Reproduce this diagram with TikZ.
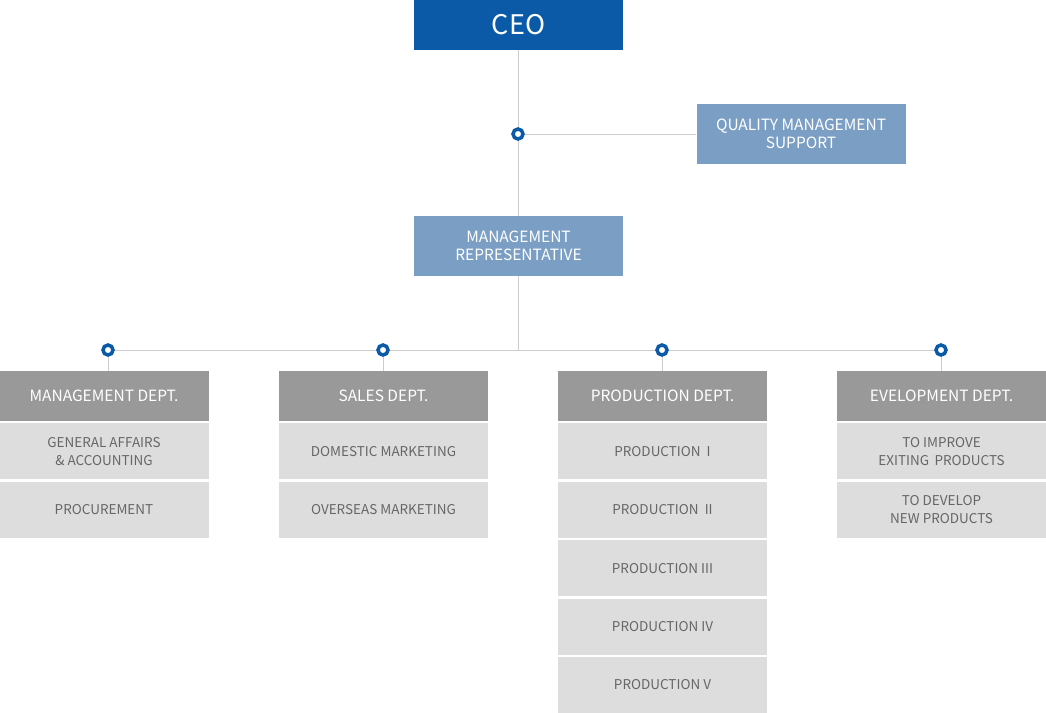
\documentclass[tikz,border=0pt]{standalone}
\usepackage{fontspec}
\setmainfont{Noto Sans CJK KR}
\usetikzlibrary{positioning, backgrounds}
\definecolor{ceoblue}{RGB}{11,90,168}
\definecolor{steel}{RGB}{122,158,196}
\definecolor{headgray}{RGB}{153,153,153}
\definecolor{cellgray}{RGB}{221,221,221}
\definecolor{celltext}{RGB}{102,102,102}
\definecolor{linegray}{RGB}{204,204,204}

\begin{document}
\begin{tikzpicture}[x=1pt, y=-1pt,
    box/.style={minimum width=209pt, inner sep=0pt, align=center, text=white},
    ceobox/.style={box, fill=ceoblue, minimum height=50pt, font=\fontsize{27}{30}\selectfont},
    repbox/.style={box, fill=steel, minimum height=60pt, font=\fontsize{15.5}{18}\selectfont},
    headbox/.style={box, fill=headgray, minimum height=50pt, font=\fontsize{15.5}{18}\selectfont},
    cellbox/.style={box, fill=cellgray, minimum height=56pt, text=celltext, font=\fontsize{13.5}{18}\selectfont},
    joint/.style={circle, draw=ceoblue, fill=white, line width=3.5pt, minimum size=10pt, inner sep=0pt},
    link/.style={draw=linegray, line width=1pt}]
    \useasboundingbox (0,0) rectangle (1046,712);

    % Top of the chart
    \node[ceobox] (ceo) at (518.5,25) {CEO};
    \node[repbox] (qms) at (801,134) {QUALITY MANAGEMENT\\SUPPORT};
    \node[repbox] (mgmtrep) at (518.5,246) {MANAGEMENT\\REPRESENTATIVE};
    \node[joint] (jq) at (518,134) {};

    % Department headers
    \node[headbox] (d1) at (104,396) {MANAGEMENT DEPT.};
    \node[headbox] (d2) at (383.5,396) {SALES DEPT.};
    \node[headbox] (d3) at (662.5,396) {PRODUCTION DEPT.};
    \node[headbox] (d4) at (941.5,396) {EVELOPMENT DEPT.};
    \foreach \i/\x in {1/108, 2/383, 3/662, 4/941}
        \node[joint] (j\i) at (\x,350) {};

    % Sections
    \node[cellbox, below=2pt of d1] (d1a) {GENERAL AFFAIRS\\\& ACCOUNTING};
    \node[cellbox, below=2pt of d1a] (d1b) {PROCUREMENT};
    \node[cellbox, below=2pt of d2] (d2a) {DOMESTIC MARKETING};
    \node[cellbox, below=2pt of d2a] (d2b) {OVERSEAS MARKETING};
    \node[cellbox, below=2pt of d3] (d3a) {PRODUCTION\hspace{0.45em}I};
    \node[cellbox, below=2pt of d3a] (d3b) {PRODUCTION\hspace{0.45em}II};
    \node[cellbox, below=2pt of d3b] (d3c) {PRODUCTION III};
    \node[cellbox, below=2pt of d3c] (d3d) {PRODUCTION IV};
    \node[cellbox, below=2pt of d3d] (d3e) {PRODUCTION V};
    \node[cellbox, below=2pt of d4] (d4a) {TO IMPROVE\\EXITING\hspace{0.4em}PRODUCTS};
    \node[cellbox, below=2pt of d4a] (d4b) {TO DEVELOP\\NEW PRODUCTS};

    % Connectors
    \begin{scope}[on background layer]
        \draw[link] (ceo.south) -- (mgmtrep.north);
        \draw[link] (jq) -- (jq -| qms.west);
        \draw[link] (mgmtrep.south) -- (mgmtrep.south |- j1);
        \draw[link] (j1) -- (j4);
        \foreach \i in {1,2,3,4}
            \draw[link] (j\i) -- (j\i |- d\i.north);
    \end{scope}
\end{tikzpicture}
\end{document}
